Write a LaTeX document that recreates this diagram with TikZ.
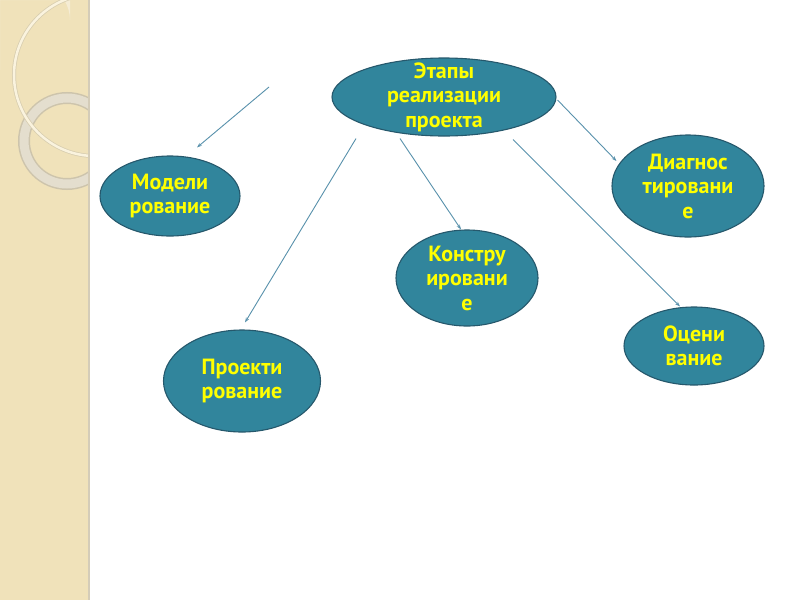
\documentclass[tikz,border=0pt]{standalone}
\usepackage{fontspec}
\setmainfont{PT Sans}
\usetikzlibrary{shapes.geometric,arrows.meta,calc}
\definecolor{nodefill}{RGB}{49,133,156}
\definecolor{nodeline}{RGB}{38,88,108}
\definecolor{txtyellow}{RGB}{255,255,0}
\definecolor{arrowcol}{RGB}{88,145,172}
\definecolor{band}{RGB}{240,226,186}
\definecolor{bandlight}{RGB}{245,236,212}
\definecolor{bandedge}{RGB}{212,204,184}
\definecolor{ringcol}{RGB}{228,222,206}
\definecolor{ringedge}{RGB}{205,196,172}
\definecolor{arccol}{RGB}{250,243,222}
\tikzset{
  stage/.style={ellipse, draw=nodeline, line width=1.1pt, fill=nodefill, inner sep=0pt,
    align=center, text=txtyellow, font=\fontsize{22}{24.5}\selectfont\bfseries},
  link/.style={draw=arrowcol, line width=0.9pt, -{Stealth[length=5pt,width=3.5pt]}}
}
\begin{document}
\begin{tikzpicture}[x=1pt,y=-1pt]
\useasboundingbox (0,0) rectangle (800,600);
\fill[white] (0,0) rectangle (800,600);
% left decorative band
\begin{scope}
\clip (0,0) rectangle (88,600);
\fill[band] (0,0) rectangle (88,600);
\fill[bandlight] (0,0) -- (70,0) -- (70,20) arc[start angle=0,end angle=-90,x radius=70,y radius=50] -- (0,70) -- cycle;
\draw[ringedge, line width=12pt] (67,141) circle[radius=43];
\draw[ringcol, line width=9pt] (67,141) circle[radius=43];
\draw[ringedge!70!band, line width=4pt] (95,75) circle[radius=81];
\draw[arccol, line width=2.5pt] (95,75) circle[radius=81];
\end{scope}
\fill[bandedge] (88,0) rectangle (90,600);
% nodes
\node[stage, inner ysep=-15pt, minimum width=224pt, minimum height=78pt] (E) at (444,97) {Этапы\\реализации\\проекта};
\node[stage, minimum width=140pt, minimum height=80pt] (M) at (170,196) {Модели\\рование};
\node[stage, minimum width=152pt, minimum height=102pt] (D) at (688,186) {Диагнос\\тировани\\е};
\node[stage, inner ysep=-5pt, minimum width=142pt, minimum height=96pt] (K) at (467,278) {Констру\\ировани\\е};
\node[stage, minimum width=157pt, minimum height=102pt] (P) at (242,381) {Проекти\\рование};
\node[stage, minimum width=140pt, minimum height=78pt] (O) at (694,346) {Оцени\\вание};
% connectors
\coordinate (s1) at (269,87);
\draw[link] (s1) -- ($(M.north)+(27,-8)$);
\draw[link] ($(E.south)+(-88,2)$) -- ($(P.north)+(3,-7)$);
\draw[link] ($(E.south)+(-44,2)$) -- ($(K.north)+(-6,0)$);
\draw[link] ($(E.east)+(1,3)$) -- ($(D.west)+(5,-25)$);
\draw[link] ($(E.south)+(69,3)$) -- ($(O.north)+(-14,0)$);
\end{tikzpicture}
\end{document}
